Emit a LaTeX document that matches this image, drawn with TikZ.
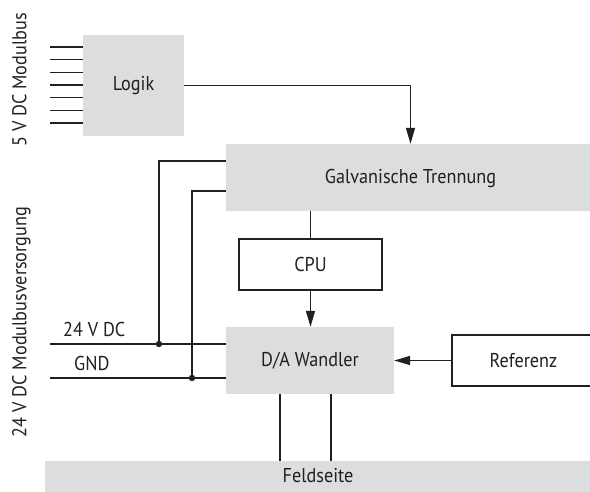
\documentclass[tikz,border=0pt]{standalone}
\usepackage{fontspec}
\setmainfont[FakeStretch=0.91]{PT Sans}
\usetikzlibrary{arrows.meta,calc}
\definecolor{boxgray}{HTML}{DCDDDE}
\definecolor{ink}{HTML}{231F20}
\tikzset{
  graybox/.style={fill=boxgray, draw=none, inner sep=0pt, text=ink},
  whitebox/.style={fill=white, draw=ink, line width=1.4pt, inner sep=0pt, text=ink},
  wire/.style={draw=ink, line width=1.4pt},
  arr/.style={wire, -{Triangle[length=16pt,width=9pt]}},
  lbl/.style={text=ink, inner sep=0pt},
}
\begin{document}
\begin{tikzpicture}[x=1pt,y=-1pt,font=\fontsize{20}{24}\selectfont]
\useasboundingbox (0,0) rectangle (590,491);
\clip (0,0) rectangle (590,491);
\fill[white] (0,0) rectangle (590,491);

% boxes
\node[graybox, minimum width=101pt, minimum height=101pt] (logik) at (133.5,85.5) {Logik};
\node[graybox, minimum width=370pt, minimum height=67pt] (galv) at (411,177.5) {};
\node[lbl] (galvtxt) at (410.5,178) {Galvanische Trennung};
\node[whitebox, minimum width=143pt, minimum height=51pt] (cpu) at (310.5,264.5) {CPU};
\node[graybox, minimum width=168pt, minimum height=67pt] (da) at (310,360.5) {D/A Wandler};
\node[whitebox, minimum width=143pt, minimum height=51pt] (ref) at (523.5,360.5) {Referenz};
\node[graybox, minimum width=560pt, minimum height=32pt] (feld) at (325,477) {};
\node[lbl] (feldtxt) at (318,476) {Feldseite};

% side labels
\node[lbl, rotate=90, anchor=base] (l5v) at (26.5,80) {5 V DC Modulbus};
\node[lbl, rotate=90, anchor=base] (l24v) at (26.5,322) {24 V DC Modulbusversorgung};
\node[lbl, anchor=base west] (t24) at (63,336) {24 V DC};
\node[lbl, anchor=base west] (tgnd) at (74,370) {GND};

% bus lines into Logik
\foreach \i/\y in {1/47,2/59.7,3/72.3,4/85,5/97.7,6/110.3,7/123}{
  \coordinate (bus\i) at (50,\y);
  \draw[wire] (bus\i) -- (bus\i -| logik.west);
}

% Logik -> Galvanische Trennung
\draw[arr] (logik.east) -| ([xshift=-0.5pt]galv.north);

% power lines
\coordinate (v24) at (50,344);
\coordinate (gnd) at (50,378);
\coordinate (d1) at (159,344);
\coordinate (d2) at (192,378);
\draw[wire] (v24) -- (v24 -| da.west);
\draw[wire] (gnd) -- (gnd -| da.west);
\draw[wire] ([yshift=16.5pt]galv.west) -| (d1);
\draw[wire] ([yshift=-13.5pt]galv.west) -| (d2);
\fill[ink] (d1) circle (3.2pt);
\fill[ink] (d2) circle (3.2pt);

% CPU path
\draw[wire] (galv.south -| cpu.north) -- (cpu.north);
\draw[arr] (cpu.south) -- (cpu.south |- da.north);

% Referenz -> D/A
\draw[arr] (ref.west) -- (ref.west -| da.east);

% D/A -> Feldseite
\draw[wire] ([xshift=-30pt]da.south) -- ([xshift=-30pt]da.south |- feld.north);
\draw[wire] ([xshift=21pt]da.south) -- ([xshift=21pt]da.south |- feld.north);
\end{tikzpicture}
\end{document}
